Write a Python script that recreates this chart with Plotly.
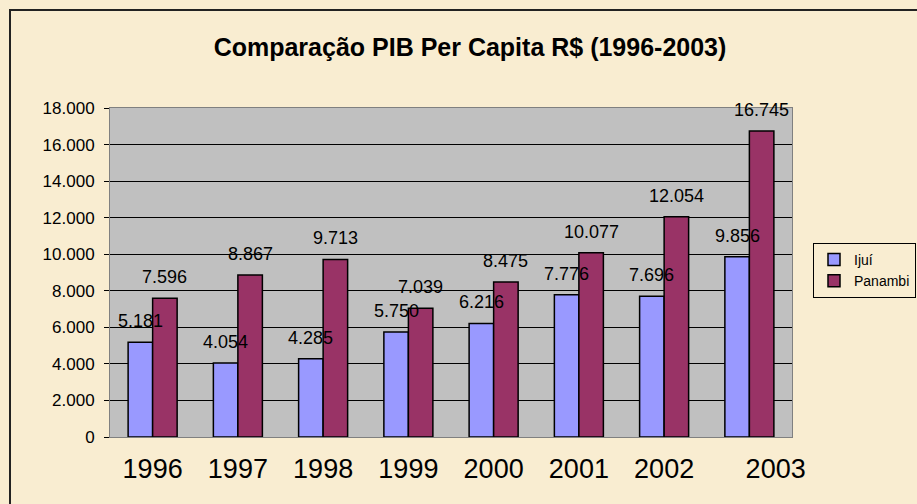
import plotly.graph_objects as go

years = ["1996", "1997", "1998", "1999", "2000", "2001", "2002", "2003"]
tick_labels = ["1996", "1997", "1998", "1999", "2000", "2001", "2002",
               "\u00a0\u00a0\u00a0\u00a0\u00a0\u00a0\u00a02003"]
ijui = [5181, 4054, 4285, 5750, 6216, 7776, 7696, 9856]
panambi = [7596, 8867, 9713, 7039, 8475, 10077, 12054, 16745]
series_names = ["Ijuí", "Panambi"]
title_text = "Comparação PIB Per Capita R$ (1996-2003)"

W, H = 917, 504
L, R, T, B = 110, 125, 108, 67
pw, ph = W - L - R, H - T - B

def fmt(v):
    return f"{v:,}".replace(",", ".")

FONT = "Liberation Sans, Arial, sans-serif"
colors = ["#9999ff", "#993366"]
idx = list(range(len(years)))

fig = go.Figure()
for name, vals, col in zip(series_names, [ijui, panambi], colors):
    fig.add_trace(go.Bar(
        x=idx, y=vals, name=name,
        marker=dict(color=col, line=dict(color="black", width=1.5)),
    ))

annotations = []
for vals, xs in [(ijui, -12.3), (panambi, 12.3)]:
    for i, v in zip(idx, vals):
        annotations.append(dict(
            x=i, y=v, xref="x", yref="y", text=fmt(v), showarrow=False,
            xshift=xs, yshift=21, yanchor="middle", xanchor="center",
            font=dict(family=FONT, size=18, color="black"),
        ))

fig.update_layout(
    width=W, height=H,
    margin=dict(l=L, r=R, t=T, b=B, autoexpand=False),
    paper_bgcolor="#f9edd1",
    plot_bgcolor="#c0c0c0",
    separators=",.",
    barmode="group",
    bargap=0.425,
    bargroupgap=0,
    title=dict(text="<b>" + title_text + "</b>", x=470 / W, xref="container",
               y=1 - 47 / H, yref="container", xanchor="center", yanchor="middle",
               font=dict(family=FONT, size=25, color="black")),
    showlegend=True,
    legend=dict(x=(813 - L) / pw, y=(T + ph - 243) / ph, xanchor="left", yanchor="top",
                bgcolor="rgba(0,0,0,0)", bordercolor="black", borderwidth=1,
                font=dict(family=FONT, size=14, color="black"),
                tracegroupgap=0, itemwidth=30),
    annotations=annotations,
    shapes=[dict(type="rect", xref="paper", yref="paper",
                 x0=(10 - L) / pw, x1=1.5, y0=-0.5, y1=(T + ph - 10) / ph,
                 line=dict(color="#222222", width=2), layer="below")],
)
fig.update_xaxes(
    type="linear", range=[-0.5, 7.5], tickmode="array", tickvals=idx, ticktext=tick_labels,
    tickangle=0, automargin=False,
    showline=True, linecolor="#808080", linewidth=1, mirror=True,
    ticks="", tickfont=dict(family=FONT, size=27, color="black"),
    ticklabelstandoff=8, showgrid=False, zeroline=False,
)
fig.update_yaxes(
    range=[0, 18000], dtick=2000, tickformat=",d", automargin=False,
    showline=True, linecolor="#808080", linewidth=1, mirror=True,
    ticks="outside", ticklen=5, tickcolor="black",
    tickfont=dict(family=FONT, size=17, color="black"),
    showgrid=True, gridcolor="black", gridwidth=1, zeroline=False,
    ticklabelstandoff=6,
)
fig.write_html("out.html", config={"displayModeBar": False},
               post_script="document.body.style.margin='0';")
